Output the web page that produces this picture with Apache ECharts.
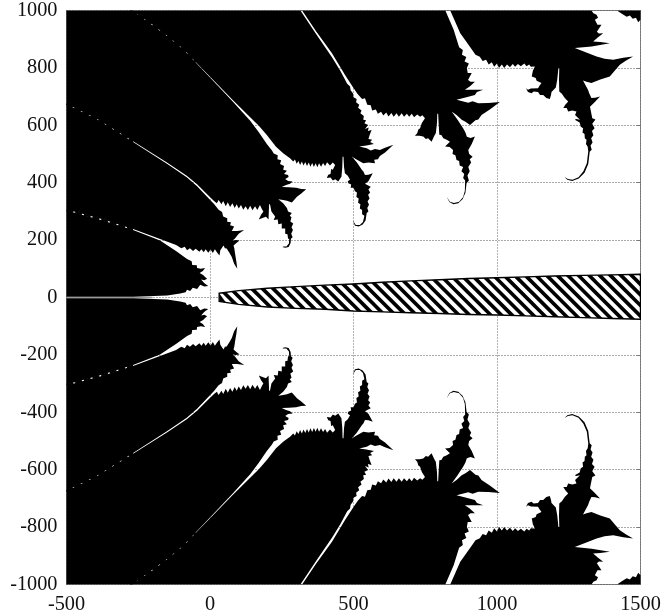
<!DOCTYPE html>
<html><head><meta charset="utf-8"><style>html,body{margin:0;padding:0;background:#fff}#c{width:664px;height:616px}</style>
<script src="https://cdn.jsdelivr.net/npm/echarts@6/dist/echarts.min.js"></script></head>
<body><div id="c"></div>
<script>
var xTicks=[-500,0,500,1000,1500];
var yTicks=[-1000,-800,-600,-400,-200,0,200,400,600,800,1000];
// upper-half outlines in data units; the figure is mirrored about y=0
var lobeA=[[-500,3],[-268,3],[-149,7],[-104,14],[-85,18],[-80,27],[-69,23],[-60,34],[-45,30],[-34,44],[-20,38],[-6,40],[-16,47],[-21,51],[-31,63],[-20,60],[-10,65],[-18,72],[-24,78],[-36,85],[-25,92],[-17,103],[-32,100],[-45,103],[-46,112],[-62,113],[-64,126],[-80,134],[-116,160],[-174,199],[-268,235],[-383,271],[-500,303]];
var lobeB=[[-500,307],[-383,275],[-268,239],[-174,204],[-118,183],[-100,172],[-88,177],[-80,165],[-70,172],[-59,162],[-50,170],[-37,159],[-30,168],[-22,158],[-15,168],[-6,156],[2,167],[10,155],[17,168],[24,158],[33,146],[36,165],[47,181],[52,172],[58,171],[68,155],[76,141],[84,118],[95,100],[92,125],[87,155],[85,170],[82,181],[92,190],[103,199],[90,200],[79,199],[87,206],[100,222],[119,235],[95,232],[76,232],[84,247],[70,252],[73,262],[60,264],[60,276],[46,282],[42,298],[30,306],[14,326],[-11,352],[-45,388],[-81,419],[-150,466],[-268,542],[-394,621],[-478,662],[-500,675]];
var lobeC=[[-500,1000],[-500,675],[-478,664],[-394,623],[-268,544],[-150,470],[-81,424],[-45,395],[-11,361],[14,336],[24,328],[30,340],[40,325],[46,336],[55,318],[62,332],[70,315],[78,328],[86,312],[93,325],[100,310],[108,322],[116,306],[124,318],[132,305],[140,320],[148,304],[157,318],[165,305],[174,322],[182,306],[186,300],[178,288],[170,272],[185,278],[195,281],[204,272],[205,300],[206,325],[209,325],[214,300],[227,282],[222,270],[236,272],[238,255],[250,258],[250,240],[262,240],[262,222],[270,220],[272,205],[276,205],[275,188],[266,178],[256,178],[252,176],[262,173],[274,176],[281,190],[282,205],[288,210],[283,222],[289,235],[284,245],[290,258],[280,265],[284,280],[278,285],[285,294],[272,300],[268,312],[255,328],[238,342],[255,340],[268,337],[285,331],[293,340],[303,351],[318,362],[335,377],[318,378],[300,382],[275,384],[250,385],[265,392],[279,396],[288,404],[272,406],[262,413],[274,420],[272,427],[258,430],[268,442],[255,445],[258,458],[244,465],[248,478],[235,482],[236,496],[222,502],[216,512],[198,535],[170,576],[140,616],[80,682],[24,741],[-34,802],[-94,865],[-150,911],[-209,955],[-254,987],[-278,1000]];
var lobeD=[[-278,1000],[-254,987],[-209,957],[-150,913],[-94,867],[-34,804],[24,745],[80,687],[140,628],[170,598],[198,566],[230,525],[256,502],[279,485],[290,474],[296,481],[302,466],[308,476],[314,462],[320,474],[326,460],[332,472],[338,458],[344,470],[350,456],[356,469],[362,455],[368,468],[374,454],[380,468],[387,456],[394,469],[401,458],[408,471],[418,460],[428,470],[436,462],[428,445],[422,448],[420,430],[412,428],[407,416],[420,418],[428,408],[436,412],[447,404],[452,412],[458,421],[461,455],[462,490],[465,490],[467,455],[470,433],[480,424],[488,410],[480,405],[482,398],[492,394],[490,382],[500,382],[505,370],[512,366],[510,350],[518,345],[516,330],[524,325],[522,310],[530,305],[530,290],[538,285],[533,263],[522,253],[508,253],[498,268],[505,250],[518,247],[532,254],[542,268],[546,294],[552,300],[548,312],[554,323],[549,335],[556,345],[551,358],[558,366],[552,376],[560,386],[548,392],[540,396],[552,405],[567,433],[552,428],[540,427],[535,438],[529,445],[512,470],[494,491],[512,480],[534,468],[552,470],[575,468],[572,480],[585,482],[592,493],[610,505],[639,532],[610,522],[592,514],[575,517],[560,512],[546,520],[520,526],[545,530],[571,535],[558,542],[565,550],[552,552],[556,565],[563,584],[550,580],[553,592],[540,587],[551,601],[538,607],[544,618],[534,619],[536,632],[524,642],[528,652],[516,661],[520,672],[509,680],[511,692],[500,698],[498,712],[490,722],[488,735],[478,745],[454,790],[425,837],[369,919],[315,1000]];
var lobeE=[[321,1000],[369,929],[425,851],[470,776],[500,730],[515,708],[530,692],[540,694],[548,672],[560,670],[565,652],[578,655],[585,640],[596,647],[604,634],[614,645],[622,631],[632,643],[640,630],[650,642],[658,630],[668,642],[676,630],[686,640],[694,630],[703,640],[711,628],[722,638],[732,630],[740,635],[749,625],[738,608],[732,590],[726,585],[722,572],[714,564],[730,564],[743,561],[752,552],[760,555],[772,543],[780,560],[787,573],[791,610],[792,640],[795,640],[797,600],[799,567],[806,566],[813,555],[825,550],[836,543],[828,535],[819,526],[835,524],[847,514],[845,500],[855,496],[859,479],[868,476],[870,460],[882,455],[876,440],[886,430],[882,416],[889,408],[888,372],[882,350],[868,334],[850,329],[836,334],[825,350],[834,333],[848,325],[865,328],[880,342],[890,365],[894,398],[902,408],[897,425],[905,440],[900,455],[910,470],[905,482],[915,490],[903,500],[900,514],[912,535],[923,561],[908,556],[895,560],[890,575],[882,590],[862,620],[842,648],[860,635],[877,619],[890,612],[906,601],[925,618],[935,620],[946,636],[975,655],[1010,681],[970,678],[935,677],[915,684],[900,679],[859,689],[890,697],[923,706],[930,716],[952,724],[920,724],[888,724],[905,735],[923,752],[908,752],[899,758],[912,782],[898,782],[895,800],[902,815],[887,822],[893,838],[878,846],[881,862],[868,872],[849,933],[820,1000]];
var lobeF=[[837,1000],[872,921],[913,863],[925,846],[940,839],[950,824],[962,828],[971,812],[982,820],[990,804],[1000,815],[1007,800],[1017,812],[1025,800],[1035,812],[1045,802],[1055,814],[1063,804],[1073,814],[1083,806],[1095,815],[1103,806],[1112,812],[1118,804],[1132,805],[1125,790],[1121,770],[1135,765],[1138,755],[1155,747],[1148,738],[1143,729],[1118,728],[1108,724],[1101,729],[1108,716],[1120,712],[1128,718],[1143,716],[1150,706],[1161,706],[1172,695],[1184,692],[1188,705],[1190,716],[1205,732],[1210,760],[1214,800],[1217,800],[1216,760],[1217,718],[1226,710],[1236,695],[1248,683],[1238,672],[1231,660],[1243,660],[1248,648],[1262,652],[1277,648],[1272,636],[1289,619],[1276,622],[1271,619],[1288,610],[1292,595],[1300,590],[1298,575],[1305,570],[1306,555],[1312,550],[1310,535],[1316,525],[1318,510],[1313,468],[1301,440],[1284,419],[1263,410],[1247,413],[1235,420],[1245,410],[1262,406],[1285,415],[1305,435],[1318,465],[1323,508],[1330,515],[1326,530],[1333,540],[1328,555],[1336,565],[1331,580],[1340,590],[1332,605],[1343,620],[1332,625],[1328,645],[1324,665],[1340,680],[1359,700],[1342,696],[1329,695],[1322,710],[1317,724],[1295,765],[1271,805],[1295,758],[1312,752],[1329,747],[1360,760],[1393,770],[1410,790],[1428,811],[1450,826],[1474,840],[1440,835],[1405,828],[1375,832],[1347,840],[1271,869],[1330,875],[1393,886],[1360,890],[1335,892],[1350,905],[1370,921],[1355,920],[1348,926],[1364,950],[1350,950],[1341,968],[1352,975],[1347,985],[1336,990],[1329,1000]];
var lobeG=[[1418,1000],[1435,989],[1452,978],[1463,983],[1473,971],[1484,975],[1492,959],[1500,968],[1500,1000]];
var lobes=[lobeA,lobeB,lobeC,lobeD,lobeE,lobeF,lobeG];
// far ends of the white filaments, where they break up into dots
var tail1=[[-500,305],[-383,273],[-268,237]];
var tail2=[[-500,675],[-478,663],[-394,622],[-268,543]];
var tail3=[[-278,1000],[-254,987],[-209,956],[-150,912],[-94,866],[-50,820]];
var tails=[tail1,tail2,tail3];
var wedgeX=[32,100,200,300,400,500,600,700,800,900,1000,1100,1200,1300,1400,1500];
var wedgeTop=[15,24,32,38,43,47,53,58,62,66,69,72,75,77,79,81];
var wedgeBottom=[-14,-24,-33,-38,-41,-47,-50,-53,-56,-59,-61,-64,-67,-70,-73,-76];
var stripeStart=[20,57,94,131,168,205,242,279,316,353,390,427,464,501,538,575,612,649,686,723,760,797,834,871,908,945,982,1019,1056,1093,1130,1167,1204,1241,1278,1315,1352,1389,1426,1463,1500,1537,1574];
var axisGlow=[[-500,0],[-200,0]];

var stripeWidth=18, stripeLean=1;
function edge(arr,x){
  if(x<=wedgeX[0])return arr[0];
  for(var i=1;i<wedgeX.length;i++){ if(x<=wedgeX[i]){var t=(x-wedgeX[i-1])/(wedgeX[i]-wedgeX[i-1]);return arr[i-1]+t*(arr[i]-arr[i-1]);} }
  return arr[arr.length-1];
}
function hit(c,arr){ var x=c; for(var i=0;i<6;i++){x=c-stripeLean*edge(arr,x);} return [Math.max(x,wedgeX[0]),edge(arr,x)]; }

var chart=echarts.init(document.getElementById('c'),null,{renderer:'canvas'});
var lobeRows=[];
lobes.forEach(function(l,i){lobeRows.push([i,1]);lobeRows.push([i,-1]);});
var tailRows=[];
tails.forEach(function(l,i){tailRows.push([i,1]);tailRows.push([i,-1]);});
var labelFont={fontFamily:'Liberation Serif',fontSize:20.3,color:'#111',formatter:function(v){return String(v);}};
chart.setOption({
  animation:false,backgroundColor:'#fff',
  grid:{left:66.5,right:23.5,top:10.5,bottom:31.5,show:true,borderColor:'#888',borderWidth:1,backgroundColor:'#fff'},
  xAxis:[{type:'value',min:xTicks[0],max:xTicks[xTicks.length-1],interval:500,axisLine:{show:false},axisTick:{show:false},
    axisLabel:Object.assign({margin:10,showMinLabel:true,showMaxLabel:true},labelFont),
    splitLine:{show:true,lineStyle:{color:'#666',width:1,type:[1,2]}}}],
  yAxis:[{type:'value',min:yTicks[0],max:yTicks[yTicks.length-1],interval:200,axisLine:{show:false},axisTick:{show:false},
    axisLabel:Object.assign({margin:9,showMinLabel:true,showMaxLabel:true},labelFont),
    splitLine:{show:true,lineStyle:{color:'#555',width:1,type:[1,2]}}},
   {type:'value',position:'right',min:yTicks[0],max:yTicks[yTicks.length-1],interval:200,axisLine:{show:false},
    axisTick:{show:true,inside:true,length:4,lineStyle:{color:'#777'}},axisLabel:{show:false},splitLine:{show:false}}],
  series:[
   {type:'line',data:axisGlow,symbol:'none',silent:true,z:1,lineStyle:{color:'#999',width:1.5}},
   {type:'custom',coordinateSystem:'cartesian2d',clip:true,silent:true,z:2,data:lobeRows,
    renderItem:function(p,api){
      var l=lobes[api.value(0)],s=api.value(1);
      return {type:'polygon',shape:{points:l.map(function(q){return api.coord([q[0],s*q[1]]);})},style:{fill:'#000',stroke:null}};
    }},
   {type:'custom',coordinateSystem:'cartesian2d',clip:true,silent:true,z:3,data:tailRows,
    renderItem:function(p,api){
      var l=tails[api.value(0)],s=api.value(1);
      return {type:'polyline',shape:{points:l.map(function(q){return api.coord([q[0],s*q[1]]);})},style:{fill:null,stroke:'#000',lineWidth:2.2,lineDash:[7,2]}};
    }},
   {type:'custom',coordinateSystem:'cartesian2d',clip:true,silent:true,z:4,data:[[0,0]],
    renderItem:function(p,api){
      var outline=[];
      wedgeX.forEach(function(x,i){outline.push(api.coord([x,wedgeTop[i]]));});
      for(var i=wedgeX.length-1;i>=0;i--)outline.push(api.coord([wedgeX[i],wedgeBottom[i]]));
      var kids=[{type:'polygon',shape:{points:outline},style:{fill:'#fff',stroke:null}}];
      stripeStart.forEach(function(c){
        var a=hit(c,wedgeTop),b=hit(c+stripeWidth,wedgeTop),d=hit(c+stripeWidth,wedgeBottom),e=hit(c,wedgeBottom);
        kids.push({type:'polygon',shape:{points:[a,b,d,e].map(function(q){return api.coord(q);})},style:{fill:'#000',stroke:null}});
      });
      kids.push({type:'polygon',shape:{points:outline},style:{fill:null,stroke:'#000',lineWidth:1.4}});
      return {type:'group',children:kids};
    }}
  ]
});
</script></body></html>
